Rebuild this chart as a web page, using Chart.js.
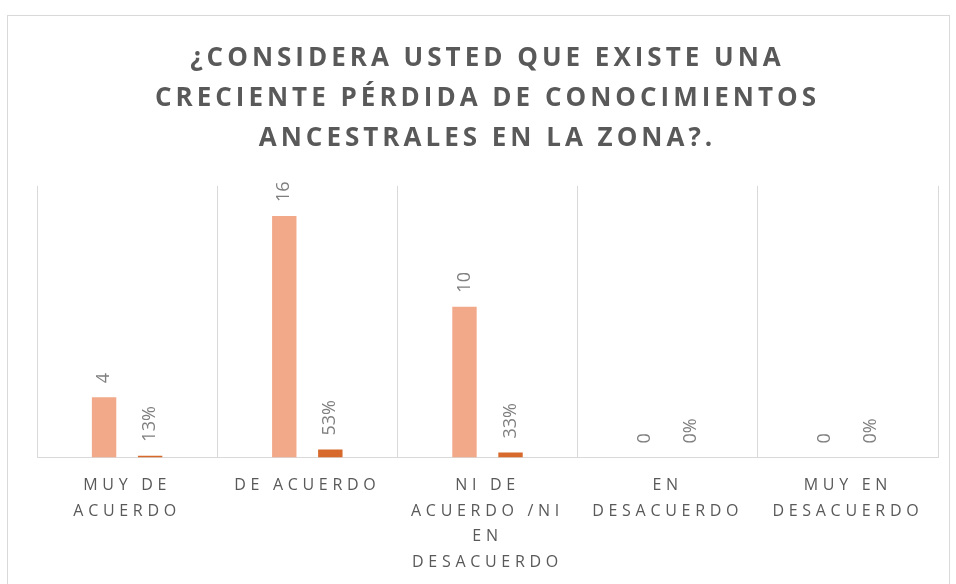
<!DOCTYPE html>
<html>
<head>
<meta charset="utf-8">
<script src="https://cdn.jsdelivr.net/npm/chart.js@4"></script>
<style>
  html, body { margin: 0; padding: 0; background: #fff; overflow: hidden; }
  #frame { position: absolute; left: 7px; top: 15px; width: 941px; height: 600px; border: 1px solid #d9d9d9; }
  #wrap { position: absolute; left: 0; top: 0; width: 956px; height: 590px; }
</style>
</head>
<body>
<div id="frame"></div>
<div id="wrap"><canvas id="myChart"></canvas></div>
<script>
const categorias = [
  ["MUY DE", "ACUERDO"],
  ["DE ACUERDO"],
  ["NI DE", "ACUERDO /NI", "EN", "DESACUERDO"],
  ["EN", "DESACUERDO"],
  ["MUY EN", "DESACUERDO"],
];
const frecuencias = [4, 16, 10, 0, 0];
const porcentajes = [0.13, 0.53, 0.33, 0, 0];
const tituloLineas = [
  "¿CONSIDERA USTED QUE EXISTE UNA",
  "CRECIENTE PÉRDIDA DE CONOCIMIENTOS",
  "ANCESTRALES EN LA ZONA?.",
];

// espaciado de letras: ejes 4.7px, titulo 4px
const espaciado = {
  id: "espaciado",
  beforeUpdate(chart) { chart.ctx.letterSpacing = "4.7px"; },
  beforeDraw(chart) {
    chart.ctx.letterSpacing = "4.7px";
    const tb = chart.titleBlock;
    if (tb && !tb._espaciado) {
      const orig = tb.draw;
      tb.draw = function (area) {
        const c = chart.ctx;
        const prev = c.letterSpacing;
        c.letterSpacing = "4px";
        orig.call(tb, area);
        c.letterSpacing = prev;
      };
      tb._espaciado = true;
    }
  },
};

// etiquetas verticales encima de cada barra
const etiquetas = {
  id: "etiquetas",
  afterDatasetsDraw(chart) {
    const ctx = chart.ctx;
    ctx.save();
    ctx.letterSpacing = "0px";
    ctx.font = "18px 'Open Sans'";
    ctx.fillStyle = "#7f7f7f";
    ctx.textAlign = "left";
    ctx.textBaseline = "middle";
    chart.data.datasets.forEach((ds, i) => {
      chart.getDatasetMeta(i).data.forEach((bar, j) => {
        const v = ds.data[j];
        const txt = i === 0 ? String(v) : Math.round(v * 100) + "%";
        ctx.save();
        ctx.translate(bar.x, bar.y - 14);
        ctx.rotate(-Math.PI / 2);
        ctx.fillText(txt, 0, 0);
        ctx.restore();
      });
    });
    ctx.restore();
  },
};

document.addEventListener("DOMContentLoaded", () => {
  const ctx = document.getElementById("myChart").getContext("2d");
  new Chart(ctx, {
    type: "bar",
    data: {
      labels: categorias,
      datasets: [
        {
          label: "Frecuencia",
          data: frecuencias,
          backgroundColor: "#f2a98a",
          categoryPercentage: 0.511,
          barPercentage: 0.53,
        },
        {
          label: "Porcentaje",
          data: porcentajes,
          backgroundColor: "#d6692b",
          categoryPercentage: 0.511,
          barPercentage: 0.53,
        },
      ],
    },
    options: {
      responsive: true,
      maintainAspectRatio: false,
      animation: false,
      layout: { padding: { left: 37, right: 18, top: 16, bottom: 0 } },
      scales: {
        x: {
          grid: { color: "#d9d9d9", drawTicks: false },
          border: { color: "#d9d9d9" },
          ticks: {
            color: "#595959",
            font: { family: "'Open Sans'", size: 16, lineHeight: 1.6 },
            padding: 15,
            maxRotation: 0,
            autoSkip: false,
          },
        },
        y: { display: false, min: 0, max: 18 },
      },
      plugins: {
        legend: { display: false },
        tooltip: { enabled: false },
        title: {
          display: true,
          text: tituloLineas,
          color: "#595959",
          font: { family: "'Open Sans'", size: 26, weight: "bold", lineHeight: 1.55 },
          padding: { top: 22, bottom: 27 },
        },
      },
    },
    plugins: [espaciado, etiquetas],
  });
});
</script>
</body>
</html>
